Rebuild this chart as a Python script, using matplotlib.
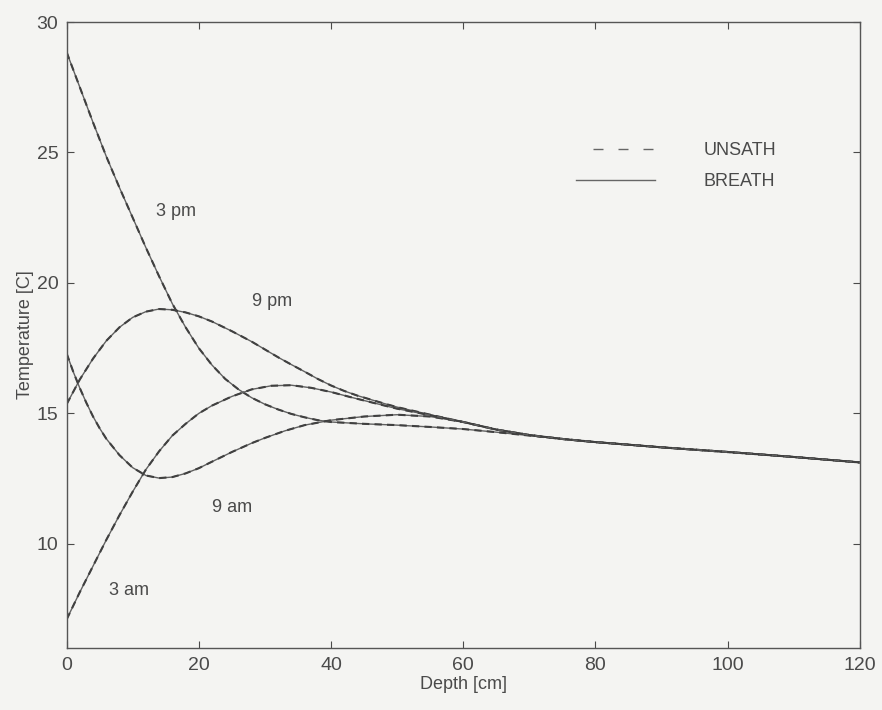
import matplotlib
matplotlib.use("Agg")
from matplotlib import pyplot as plt

plt.rcParams['font.family'] = ['Liberation Sans Narrow', 'Liberation Sans', 'DejaVu Sans']

# Soil temperature profiles at four times of day (depth in cm, temperature in C)
depth_3pm = [0, 2, 4, 6, 8, 10, 12, 14, 16, 18, 20, 22, 24, 26, 28, 30, 32, 34, 36, 38, 40, 45, 50, 55,
             60, 65, 70, 75, 80, 90, 100, 110, 120]
temp_3pm = [28.85, 27.5, 26.15, 24.85, 23.65, 22.5, 21.35, 20.25, 19.2, 18.3, 17.5, 16.85, 16.32, 15.92,
            15.6, 15.35, 15.15, 14.98, 14.85, 14.74, 14.67, 14.6, 14.55, 14.48, 14.4, 14.28, 14.15, 14.02,
            13.9, 13.7, 13.52, 13.33, 13.12]

depth_9pm = [0, 2, 4, 6, 8, 10, 12, 14, 16, 18, 20, 22, 25, 28, 30, 32, 34, 36, 38, 40, 42, 44, 46, 48,
             50, 55, 60, 65, 70, 75, 80, 90, 100, 110, 120]
temp_9pm = [15.35, 16.3, 17.1, 17.78, 18.3, 18.68, 18.9, 19.0, 18.97, 18.87, 18.72, 18.52, 18.15, 17.75,
            17.45, 17.15, 16.87, 16.6, 16.32, 16.07, 15.86, 15.68, 15.53, 15.38, 15.24, 14.95, 14.67,
            14.38, 14.17, 14.02, 13.9, 13.7, 13.52, 13.33, 13.12]

depth_9am = [0, 1, 2, 3, 4, 5, 6, 8, 10, 12, 14, 16, 18, 20, 22, 25, 28, 30, 33, 36, 40, 45, 50, 55, 60,
             65, 70, 75, 80, 90, 100, 110, 120]
temp_9am = [17.3, 16.6, 15.97, 15.4, 14.88, 14.43, 14.03, 13.4, 12.92, 12.62, 12.52, 12.56, 12.7, 12.9,
            13.15, 13.52, 13.86, 14.06, 14.33, 14.55, 14.74, 14.88, 14.95, 14.88, 14.67, 14.38, 14.17,
            14.02, 13.9, 13.7, 13.52, 13.33, 13.12]

depth_3am = [0, 2, 4, 6, 8, 10, 12, 14, 16, 18, 20, 22, 25, 28, 31, 34, 37, 40, 43, 46, 50, 55, 60, 65,
             70, 75, 80, 90, 100, 110, 120]
temp_3am = [7.1, 8.15, 9.15, 10.15, 11.1, 12.0, 12.85, 13.55, 14.15, 14.6, 15.0, 15.3, 15.65, 15.92,
            16.06, 16.08, 15.98, 15.82, 15.62, 15.43, 15.18, 14.93, 14.67, 14.38, 14.17, 14.02, 13.9,
            13.7, 13.52, 13.33, 13.12]

curves = [(depth_3pm, temp_3pm), (depth_9pm, temp_9pm), (depth_9am, temp_9am), (depth_3am, temp_3am)]

# curve labels: text, depth, temperature
labels = [("3 pm", 16.6, 22.75), ("9 pm", 31.1, 19.3), ("9 am", 25.1, 11.4), ("3 am", 9.4, 8.2)]

xticks = [0, 20, 40, 60, 80, 100, 120]
yticks = [10, 15, 20, 25, 30]

ink = '#4a4a4a'
paper = '#f4f4f2'

fig = plt.figure(figsize=(8.82, 7.10), dpi=100, facecolor=paper)
ax = fig.add_axes([0.0755, 0.087, 0.8995, 0.882])
ax.set_facecolor(paper)

for d, t in curves:
    ax.plot(d, t, color='#606060', lw=1.0, solid_joinstyle='round')
    ax.plot(d, t, color='#404040', lw=1.5, dashes=(3.5, 2.5))

for txt, x, y in labels:
    ax.text(x, y, txt, fontsize=13, color=ink, ha='center', va='center')

# hand-drawn legend
ax.plot([79.6, 88.7], [25.15, 25.15], color='#666666', lw=1.0, dashes=(7.2, 10.8))
ax.plot([77.0, 89.0], [23.95, 23.95], color='#666666', lw=1.0)
ax.text(96.4, 25.08, "UNSATH", fontsize=13, color=ink, va='center')
ax.text(96.4, 23.88, "BREATH", fontsize=13, color=ink, va='center')

ax.set_xlim(0, 120)
ax.set_ylim(6, 30)
ax.set_xticks(xticks)
ax.set_yticks(yticks)
ax.tick_params(direction='in', length=5, width=0.8, color=ink, labelcolor=ink, labelsize=14,
               top=True, right=True, pad=6)
for s in ax.spines.values():
    s.set_color('#555555')
    s.set_linewidth(1.0)

ax.set_xlabel("Depth [cm]", fontsize=13, color=ink, labelpad=2)
ax.set_ylabel("Temperature [C]", fontsize=13, color=ink, labelpad=2)

fig.savefig("out.png", dpi=100, facecolor=paper)
